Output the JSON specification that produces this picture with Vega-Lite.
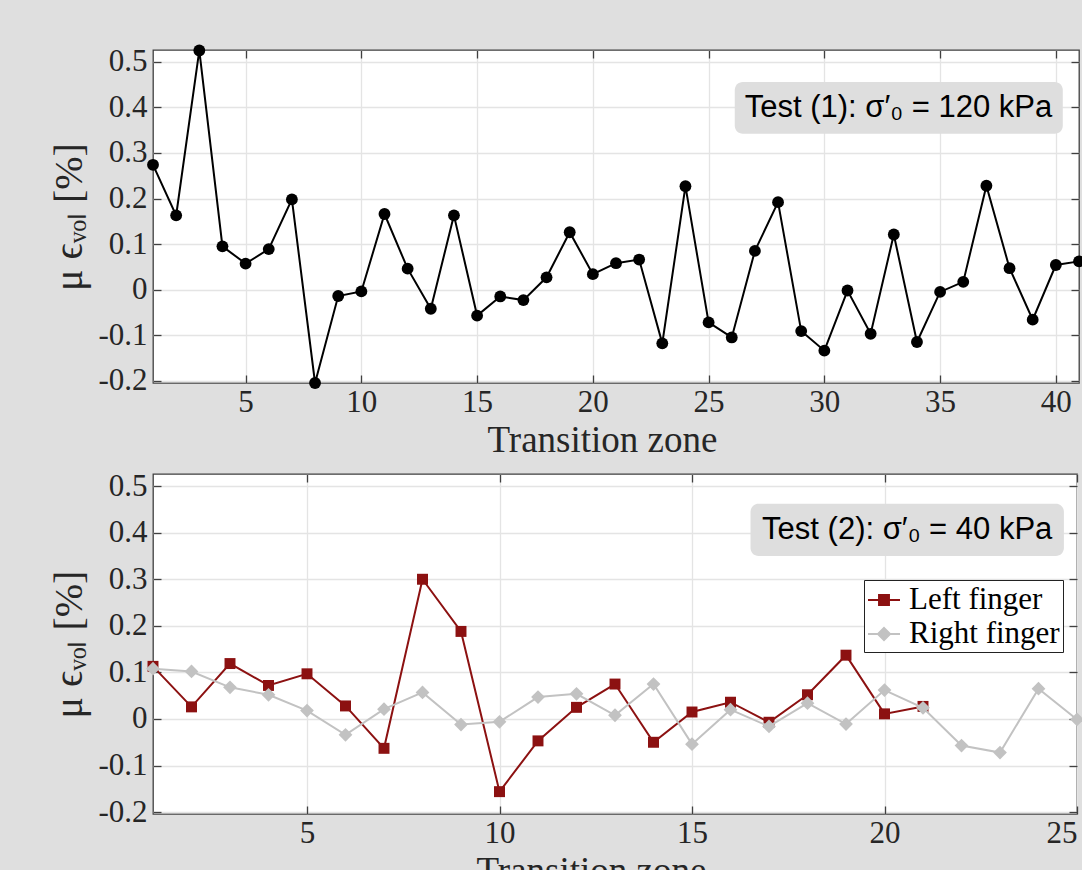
{
  "$schema": "https://vega.github.io/schema/vega-lite/v6.json",
  "background": "#dfdfdf",
  "padding": {"left": 49, "top": 43, "right": 0, "bottom": 0},
  "spacing": 10,
  "config": {
    "font": "Liberation Serif",
    "view": {"stroke": "#404040", "strokeWidth": 1.3, "fill": "white"},
    "axis": {
      "labelFont": "Liberation Serif", "labelFontSize": 31, "labelColor": "#262626",
      "titleFont": "Liberation Serif", "titleFontSize": 37, "titleColor": "#262626", "titleFontWeight": "normal",
      "gridColor": "#e4e4e4", "gridWidth": 1.3, "tickColor": "#404040", "tickWidth": 1.3
    }
  },
  "datasets": {
    "test1": [
      {"zone": 1, "mu": 0.274}, {"zone": 2, "mu": 0.163}, {"zone": 3, "mu": 0.525}, {"zone": 4, "mu": 0.095},
      {"zone": 5, "mu": 0.057}, {"zone": 6, "mu": 0.089}, {"zone": 7, "mu": 0.198}, {"zone": 8, "mu": -0.205},
      {"zone": 9, "mu": -0.014}, {"zone": 10, "mu": -0.004}, {"zone": 11, "mu": 0.166}, {"zone": 12, "mu": 0.046},
      {"zone": 13, "mu": -0.042}, {"zone": 14, "mu": 0.163}, {"zone": 15, "mu": -0.057}, {"zone": 16, "mu": -0.015},
      {"zone": 17, "mu": -0.023}, {"zone": 18, "mu": 0.027}, {"zone": 19, "mu": 0.126}, {"zone": 20, "mu": 0.034},
      {"zone": 21, "mu": 0.058}, {"zone": 22, "mu": 0.066}, {"zone": 23, "mu": -0.118}, {"zone": 24, "mu": 0.227},
      {"zone": 25, "mu": -0.072}, {"zone": 26, "mu": -0.105}, {"zone": 27, "mu": 0.085}, {"zone": 28, "mu": 0.192},
      {"zone": 29, "mu": -0.091}, {"zone": 30, "mu": -0.134}, {"zone": 31, "mu": -0.002}, {"zone": 32, "mu": -0.097},
      {"zone": 33, "mu": 0.121}, {"zone": 34, "mu": -0.115}, {"zone": 35, "mu": -0.005}, {"zone": 36, "mu": 0.017},
      {"zone": 37, "mu": 0.228}, {"zone": 38, "mu": 0.047}, {"zone": 39, "mu": -0.066}, {"zone": 40, "mu": 0.054},
      {"zone": 41, "mu": 0.062}
    ],
    "test2": [
      {"zone": 1, "finger": "Left finger", "mu": 0.113}, {"zone": 2, "finger": "Left finger", "mu": 0.026},
      {"zone": 3, "finger": "Left finger", "mu": 0.119}, {"zone": 4, "finger": "Left finger", "mu": 0.072},
      {"zone": 5, "finger": "Left finger", "mu": 0.097}, {"zone": 6, "finger": "Left finger", "mu": 0.028},
      {"zone": 7, "finger": "Left finger", "mu": -0.063}, {"zone": 8, "finger": "Left finger", "mu": 0.300},
      {"zone": 9, "finger": "Left finger", "mu": 0.188}, {"zone": 10, "finger": "Left finger", "mu": -0.156},
      {"zone": 11, "finger": "Left finger", "mu": -0.047}, {"zone": 12, "finger": "Left finger", "mu": 0.025},
      {"zone": 13, "finger": "Left finger", "mu": 0.075}, {"zone": 14, "finger": "Left finger", "mu": -0.050},
      {"zone": 15, "finger": "Left finger", "mu": 0.015}, {"zone": 16, "finger": "Left finger", "mu": 0.036},
      {"zone": 17, "finger": "Left finger", "mu": -0.007}, {"zone": 18, "finger": "Left finger", "mu": 0.052},
      {"zone": 19, "finger": "Left finger", "mu": 0.137}, {"zone": 20, "finger": "Left finger", "mu": 0.011},
      {"zone": 21, "finger": "Left finger", "mu": 0.027},
      {"zone": 1, "finger": "Right finger", "mu": 0.108}, {"zone": 2, "finger": "Right finger", "mu": 0.102},
      {"zone": 3, "finger": "Right finger", "mu": 0.068}, {"zone": 4, "finger": "Right finger", "mu": 0.052},
      {"zone": 5, "finger": "Right finger", "mu": 0.018}, {"zone": 6, "finger": "Right finger", "mu": -0.034},
      {"zone": 7, "finger": "Right finger", "mu": 0.021}, {"zone": 8, "finger": "Right finger", "mu": 0.057},
      {"zone": 9, "finger": "Right finger", "mu": -0.012}, {"zone": 10, "finger": "Right finger", "mu": -0.006},
      {"zone": 11, "finger": "Right finger", "mu": 0.047}, {"zone": 12, "finger": "Right finger", "mu": 0.054},
      {"zone": 13, "finger": "Right finger", "mu": 0.008}, {"zone": 14, "finger": "Right finger", "mu": 0.075},
      {"zone": 15, "finger": "Right finger", "mu": -0.054}, {"zone": 16, "finger": "Right finger", "mu": 0.020},
      {"zone": 17, "finger": "Right finger", "mu": -0.016}, {"zone": 18, "finger": "Right finger", "mu": 0.034},
      {"zone": 19, "finger": "Right finger", "mu": -0.011}, {"zone": 20, "finger": "Right finger", "mu": 0.062},
      {"zone": 21, "finger": "Right finger", "mu": 0.024}, {"zone": 22, "finger": "Right finger", "mu": -0.057},
      {"zone": 23, "finger": "Right finger", "mu": -0.072}, {"zone": 24, "finger": "Right finger", "mu": 0.065},
      {"zone": 25, "finger": "Right finger", "mu": -0.001}
    ],
    "ann1": [{"label": "Test (1): σ′₀ = 120 kPa"}],
    "ann2": [{"label": "Test (2): σ′₀ = 40 kPa"}]
  },
  "vconcat": [
    {
      "width": 926,
      "height": 333,
      "data": {"name": "test1"},
      "layer": [
        {
          "mark": {"type": "line", "color": "black", "strokeWidth": 2},
          "encoding": {
            "x": {"field": "zone", "type": "quantitative", "scale": {"domain": [1, 41], "nice": false, "zero": false},
              "axis": {"orient": "bottom", "values": [5, 10, 15, 20, 25, 30, 35, 40], "title": "Transition zone", "titleX": 449, "grid": true, "ticks": false, "domain": false, "labelPadding": 4, "titlePadding": 5}},
            "y": {"field": "mu", "type": "quantitative", "scale": {"domain": [-0.205, 0.526], "nice": false, "zero": false},
              "axis": {"orient": "left", "values": [-0.2, -0.1, 0, 0.1, 0.2, 0.3, 0.4, 0.5], "title": "μ ϵᵥₒₗ [%]", "titleFontSize": 40, "grid": true, "ticks": false, "domain": false, "labelPadding": 6, "titlePadding": 8,
                "labelExpr": "datum.value == 0 ? '0' : replace(format(datum.value, '.1f'), '−', '-')"}}
          }
        },
        {
          "mark": {"type": "point", "filled": true, "color": "black", "size": 140, "opacity": 1},
          "encoding": {
            "x": {"field": "zone", "type": "quantitative",
              "axis": {"orient": "top", "values": [5, 10, 15, 20, 25, 30, 35, 40], "labels": false, "ticks": true, "tickSize": -8, "grid": false, "domain": false, "title": null}},
            "y": {"field": "mu", "type": "quantitative",
              "axis": {"orient": "right", "values": [-0.2, -0.1, 0, 0.1, 0.2, 0.3, 0.4, 0.5], "labels": false, "ticks": true, "tickSize": -8, "grid": false, "domain": false, "title": null}}
          }
        },
        {
          "data": {"name": "ann1"},
          "mark": {"type": "rect", "cornerRadius": 8, "color": "#dedede"},
          "encoding": {
            "x": {"datum": 26.13, "type": "quantitative",
              "axis": {"orient": "bottom", "values": [5, 10, 15, 20, 25, 30, 35, 40], "labels": false, "ticks": true, "tickSize": -8, "grid": false, "domain": false, "title": null}},
            "x2": {"datum": 40.3},
            "y": {"datum": 0.342, "type": "quantitative",
              "axis": {"orient": "left", "values": [-0.2, -0.1, 0, 0.1, 0.2, 0.3, 0.4, 0.5], "labels": false, "ticks": true, "tickSize": -8, "grid": false, "domain": false, "title": null}},
            "y2": {"datum": 0.456}
          }
        },
        {
          "data": {"name": "ann1"},
          "mark": {"type": "text", "font": "Liberation Sans", "fontSize": 31, "color": "black", "align": "center", "baseline": "middle"},
          "encoding": {
            "x": {"datum": 33.2, "type": "quantitative", "axis": null},
            "y": {"datum": 0.399, "type": "quantitative", "axis": null},
            "text": {"field": "label"}
          }
        }
      ],
      "resolve": {"axis": {"x": "independent", "y": "independent"}}
    },
    {
      "width": 924,
      "height": 340,
      "data": {"name": "test2"},
      "layer": [
        {
          "transform": [{"filter": "datum.finger == 'Left finger'"}],
          "mark": {"type": "line", "strokeWidth": 2, "color": "#8c1111"},
          "encoding": {
            "x": {"field": "zone", "type": "quantitative", "scale": {"domain": [1, 25], "nice": false, "zero": false},
              "axis": {"orient": "bottom", "values": [5, 10, 15, 20, 25], "title": "Transition zone", "titleX": 438, "grid": true, "ticks": false, "domain": false, "labelPadding": 4, "titlePadding": 5}},
            "y": {"field": "mu", "type": "quantitative", "scale": {"domain": [-0.204, 0.526], "nice": false, "zero": false},
              "axis": {"orient": "left", "values": [-0.2, -0.1, 0, 0.1, 0.2, 0.3, 0.4, 0.5], "title": "μ ϵᵥₒₗ [%]", "titleFontSize": 40, "grid": true, "ticks": false, "domain": false, "labelPadding": 6, "titlePadding": 8,
                "labelExpr": "datum.value == 0 ? '0' : replace(format(datum.value, '.1f'), '−', '-')"}}
          }
        },
        {
          "transform": [{"filter": "datum.finger == 'Left finger'"}],
          "mark": {"type": "point", "filled": true, "opacity": 1, "shape": "square", "size": 120, "color": "#8c1111"},
          "encoding": {
            "x": {"field": "zone", "type": "quantitative",
              "axis": {"orient": "top", "values": [5, 10, 15, 20, 25], "labels": false, "ticks": true, "tickSize": -8, "grid": false, "domain": false, "title": null}},
            "y": {"field": "mu", "type": "quantitative",
              "axis": {"orient": "right", "values": [-0.2, -0.1, 0, 0.1, 0.2, 0.3, 0.4, 0.5], "labels": false, "ticks": true, "tickSize": -8, "grid": false, "domain": false, "title": null}}
          }
        },
        {
          "transform": [{"filter": "datum.finger == 'Right finger'"}],
          "mark": {"type": "line", "strokeWidth": 2, "color": "#c2c2c2"},
          "encoding": {
            "x": {"field": "zone", "type": "quantitative", "axis": null},
            "y": {"field": "mu", "type": "quantitative", "axis": null}
          }
        },
        {
          "transform": [{"filter": "datum.finger == 'Right finger'"}],
          "mark": {"type": "point", "filled": true, "opacity": 1, "shape": "diamond", "size": 190, "color": "#c2c2c2"},
          "encoding": {
            "x": {"field": "zone", "type": "quantitative", "axis": null},
            "y": {"field": "mu", "type": "quantitative", "axis": null}
          }
        },
        {
          "transform": [{"filter": "datum.zone < 0"}],
          "mark": {"type": "point", "filled": true, "opacity": 1, "strokeWidth": 2},
          "encoding": {
            "x": {"field": "zone", "type": "quantitative", "axis": null},
            "y": {"field": "mu", "type": "quantitative", "axis": null},
            "shape": {"field": "finger", "type": "nominal", "scale": {"domain": ["Left finger", "Right finger"], "range": ["M-1,0H1M-0.31,-0.31H0.31V0.31H-0.31Z", "M-1,0H1M0,-0.38L0.38,0L0,0.38L-0.38,0Z"]},
              "legend": {"orient": "none", "legendX": 711, "legendY": 530, "title": null, "fillColor": "white", "strokeColor": "#222222", "padding": 3,
                "symbolSize": 1024, "symbolOffset": 0, "labelOffset": 8, "rowPadding": 2, "symbolStrokeWidth": 2, "symbolOpacity": 1,
                "labelFont": "Liberation Serif", "labelFontSize": 31, "labelColor": "black"}},
            "fill": {"field": "finger", "type": "nominal", "scale": {"domain": ["Left finger", "Right finger"], "range": ["#8c1111", "#c2c2c2"]},
              "legend": {"orient": "none", "legendX": 711, "legendY": 530, "title": null, "fillColor": "white", "strokeColor": "#222222", "padding": 3,
                "symbolSize": 1024, "symbolOffset": 0, "labelOffset": 8, "rowPadding": 2, "symbolStrokeWidth": 2, "symbolOpacity": 1,
                "labelFont": "Liberation Serif", "labelFontSize": 31, "labelColor": "black"}},
            "stroke": {"field": "finger", "type": "nominal", "scale": {"domain": ["Left finger", "Right finger"], "range": ["#8c1111", "#c2c2c2"]},
              "legend": {"orient": "none", "legendX": 711, "legendY": 530, "title": null, "fillColor": "white", "strokeColor": "#222222", "padding": 3,
                "symbolSize": 1024, "symbolOffset": 0, "labelOffset": 8, "rowPadding": 2, "symbolStrokeWidth": 2, "symbolOpacity": 1,
                "labelFont": "Liberation Serif", "labelFontSize": 31, "labelColor": "black"}}
          }
        },
        {
          "data": {"name": "ann2"},
          "mark": {"type": "rect", "cornerRadius": 8, "color": "#dedede"},
          "encoding": {
            "x": {"datum": 16.52, "type": "quantitative",
              "axis": {"orient": "bottom", "values": [5, 10, 15, 20, 25], "labels": false, "ticks": true, "tickSize": -8, "grid": false, "domain": false, "title": null}},
            "x2": {"datum": 24.66},
            "y": {"datum": 0.350, "type": "quantitative",
              "axis": {"orient": "left", "values": [-0.2, -0.1, 0, 0.1, 0.2, 0.3, 0.4, 0.5], "labels": false, "ticks": true, "tickSize": -8, "grid": false, "domain": false, "title": null}},
            "y2": {"datum": 0.462}
          }
        },
        {
          "data": {"name": "ann2"},
          "mark": {"type": "text", "font": "Liberation Sans", "fontSize": 31, "color": "black", "align": "center", "baseline": "middle"},
          "encoding": {
            "x": {"datum": 20.59, "type": "quantitative", "axis": null},
            "y": {"datum": 0.406, "type": "quantitative", "axis": null},
            "text": {"field": "label"}
          }
        }
      ],
      "resolve": {"axis": {"x": "independent", "y": "independent"}}
    }
  ]
}
